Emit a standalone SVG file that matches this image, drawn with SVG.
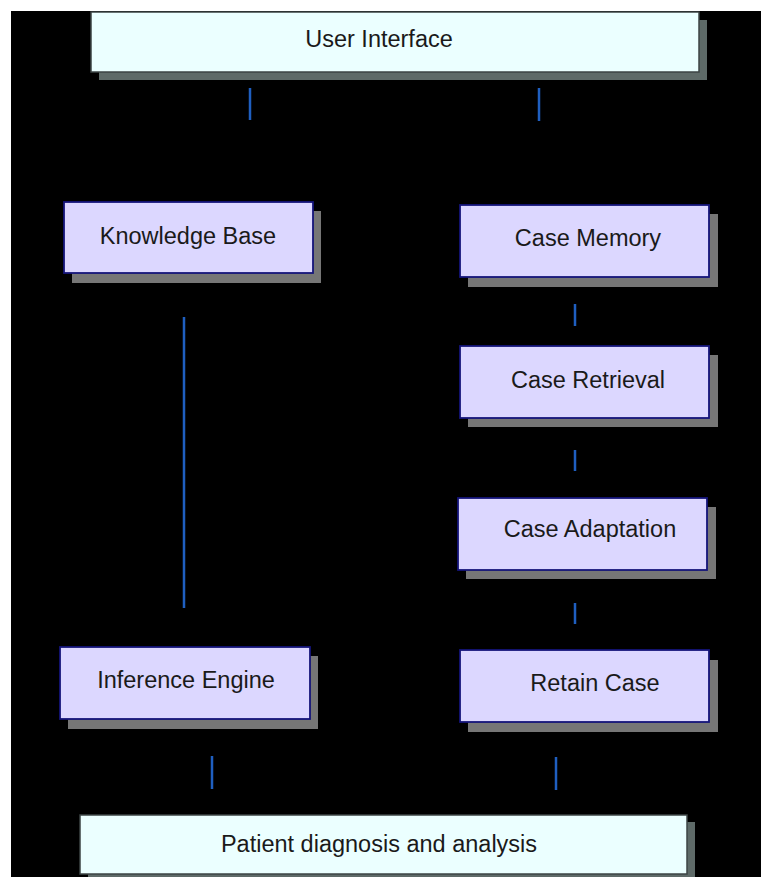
<svg xmlns="http://www.w3.org/2000/svg" width="761" height="877" viewBox="0 0 761 877">
  <style>
    .label { font-family: "Liberation Sans", Arial, sans-serif; font-size: 23.5px; fill: #1a1a1a; text-anchor: middle; }
    .io { fill: #ebffff; stroke: #3c4444; stroke-width: 1.5; }
    .io-shadow { fill: #5e6a68; }
    .mod { fill: #dcd7ff; stroke: #14147a; stroke-width: 1.8; }
    .mod-shadow { fill: #767676; }
    .link { stroke: #1f5fc0; stroke-width: 2.5; fill: none; }
  </style>

  <!-- page backdrop -->
  <rect x="0" y="0" width="761" height="877" fill="#ffffff"/>
  <rect x="11" y="11" width="750" height="866" fill="#000000"/>

  <!-- connectors -->
  <g id="connectors">
    <line class="link" x1="250" y1="88" x2="250" y2="120"/>
    <line class="link" x1="539" y1="88" x2="539" y2="121"/>
    <line class="link" x1="184" y1="317" x2="184" y2="608"/>
    <line class="link" x1="575" y1="304" x2="575" y2="326"/>
    <line class="link" x1="575" y1="450" x2="575" y2="471"/>
    <line class="link" x1="575" y1="603" x2="575" y2="624"/>
    <line class="link" x1="212" y1="756" x2="212" y2="789"/>
    <line class="link" x1="556" y1="757" x2="556" y2="790"/>
  </g>

  <!-- top: user interface -->
  <g id="user-interface">
    <rect class="io-shadow" x="99" y="20" width="608" height="60"/>
    <rect class="io" x="91" y="12" width="608" height="60"/>
    <text class="label" x="379" y="47">User Interface</text>
  </g>

  <g id="knowledge-base">
    <rect class="mod-shadow" x="72" y="211" width="249" height="72"/>
    <rect class="mod" x="64" y="202" width="249" height="71"/>
    <text class="label" x="188" y="244">Knowledge Base</text>
  </g>

  <g id="case-memory">
    <rect class="mod-shadow" x="468" y="214" width="250" height="73"/>
    <rect class="mod" x="460" y="205" width="249" height="72"/>
    <text class="label" x="588" y="246">Case Memory</text>
  </g>

  <g id="case-retrieval">
    <rect class="mod-shadow" x="468" y="355" width="250" height="72"/>
    <rect class="mod" x="460" y="346" width="249" height="72"/>
    <text class="label" x="588" y="388">Case Retrieval</text>
  </g>

  <g id="case-adaptation">
    <rect class="mod-shadow" x="466" y="507" width="250" height="72"/>
    <rect class="mod" x="458" y="498" width="249" height="72"/>
    <text class="label" x="590" y="537">Case Adaptation</text>
  </g>

  <g id="inference-engine">
    <rect class="mod-shadow" x="68" y="656" width="250" height="73"/>
    <rect class="mod" x="60" y="647" width="250" height="72"/>
    <text class="label" x="186" y="688">Inference Engine</text>
  </g>

  <g id="retain-case">
    <rect class="mod-shadow" x="468" y="660" width="250" height="72"/>
    <rect class="mod" x="460" y="650" width="249" height="72"/>
    <text class="label" x="595" y="691">Retain Case</text>
  </g>

  <!-- bottom: output -->
  <g id="patient-diagnosis">
    <rect class="io-shadow" x="88" y="822" width="607" height="60"/>
    <rect class="io" x="80" y="815" width="607" height="59"/>
    <text class="label" x="379" y="852">Patient diagnosis and analysis</text>
  </g>
</svg>
